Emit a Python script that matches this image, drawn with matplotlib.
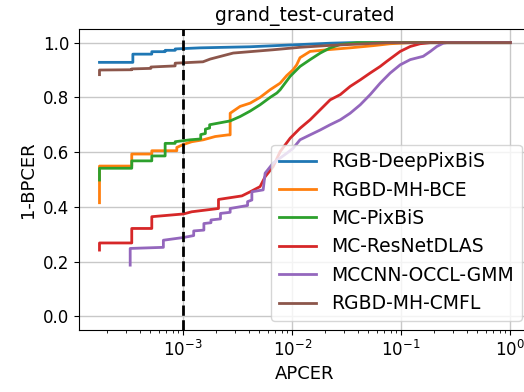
import numpy as np
import matplotlib
matplotlib.use('Agg')
import matplotlib.pyplot as plt

# APCER / 1-BPCER vertices (repeated x = vertical step)
names = ['RGB-DeepPixBiS', 'RGBD-MH-BCE', 'MC-PixBiS', 'MC-ResNetDLAS',
         'MCCNN-OCCL-GMM', 'RGBD-MH-CMFL']

blue_x = [1.71e-4, 3.46e-4, 3.46e-4, 5.16e-4, 5.16e-4, 6.84e-4, 6.84e-4,
          8.45e-4, 8.45e-4, 1.43e-3, 4.12e-3, 1.18e-2, 2.23e-2, 3.4e-2, 1.0]
blue_y = [0.928, 0.928, 0.958, 0.958, 0.967, 0.967, 0.972, 0.972, 0.977,
          0.981, 0.985, 0.993, 0.998, 1.0, 1.0]

orange_x = [1.71e-4, 1.71e-4, 3.38e-4, 3.38e-4, 5.16e-4, 5.16e-4, 8.75e-4,
            8.75e-4, 1.007e-3, 1.2e-3, 1.53e-3, 1.97e-3, 2.59e-3, 2.7e-3,
            2.7e-3, 3.33e-3, 4.12e-3, 5.08e-3, 6.28e-3, 7.76e-3, 8.93e-3,
            1.02e-2, 1.1e-2, 1.18e-2, 1.46e-2, 2.08e-2, 3.4e-2, 5.53e-2,
            7.92e-2, 0.121, 1.0]
orange_y = [0.415, 0.549, 0.549, 0.593, 0.593, 0.605, 0.605, 0.617, 0.628,
            0.638, 0.645, 0.657, 0.663, 0.663, 0.742, 0.767, 0.779, 0.800,
            0.828, 0.852, 0.880, 0.901, 0.919, 0.945, 0.968, 0.974, 0.981,
            0.989, 0.996, 1.0, 1.0]

green_x = [1.71e-4, 1.71e-4, 3.38e-4, 3.38e-4, 5.16e-4, 5.16e-4, 6.84e-4,
           6.84e-4, 8.45e-4, 8.45e-4, 1.16e-3, 1.45e-3, 1.45e-3, 1.6e-3,
           1.6e-3, 1.75e-3, 1.75e-3, 2.7e-3, 3.33e-3, 4.12e-3, 5.08e-3,
           6.28e-3, 7.24e-3, 7.76e-3, 9.59e-3, 1.18e-2, 1.46e-2, 1.81e-2,
           2.23e-2, 2.76e-2, 3.92e-2, 1.0]
green_y = [0.498, 0.541, 0.541, 0.568, 0.568, 0.586, 0.586, 0.632, 0.632,
           0.638, 0.645, 0.648, 0.664, 0.668, 0.684, 0.688, 0.700, 0.714,
           0.730, 0.750, 0.773, 0.800, 0.816, 0.828, 0.877, 0.913, 0.938,
           0.962, 0.981, 0.993, 1.0, 1.0]

red_x = [1.71e-4, 1.71e-4, 3.38e-4, 3.38e-4, 5.16e-4, 5.16e-4, 1.007e-3,
         1.2e-3, 2.11e-3, 2.11e-3, 3.46e-3, 4.12e-3, 5.08e-3, 5.65e-3,
         6.69e-3, 7.76e-3, 9.59e-3, 1.18e-2, 1.46e-2, 1.81e-2, 2.23e-2,
         2.76e-2, 3.4e-2, 4.21e-2, 5.19e-2, 6.41e-2, 7.39e-2, 9.79e-2,
         0.121, 0.149, 0.185, 1.0]
red_y = [0.242, 0.268, 0.268, 0.321, 0.321, 0.364, 0.374, 0.382, 0.394,
         0.427, 0.440, 0.455, 0.474, 0.510, 0.547, 0.602, 0.651, 0.687,
         0.718, 0.755, 0.791, 0.810, 0.840, 0.864, 0.889, 0.913, 0.932,
         0.968, 0.986, 0.996, 1.0, 1.0]

purple_x = [3.27e-4, 3.27e-4, 6.59e-4, 6.59e-4, 1.007e-3, 1.25e-3, 1.25e-3,
            1.55e-3, 1.55e-3, 1.8e-3, 1.8e-3, 2.2e-3, 2.2e-3, 2.7e-3,
            2.7e-3, 3.9e-3, 3.9e-3, 4.27e-3, 4.27e-3, 5.42e-3, 5.65e-3,
            6.69e-3, 8.93e-3, 1.02e-2, 1.18e-2, 1.46e-2, 1.81e-2, 2.23e-2,
            2.76e-2, 3.4e-2, 4.21e-2, 5.19e-2, 6.41e-2, 7.92e-2, 9.79e-2,
            0.121, 0.159, 0.185, 0.212, 0.243, 0.262, 1.0]
purple_y = [0.187, 0.248, 0.252, 0.278, 0.288, 0.295, 0.312, 0.315, 0.339,
            0.342, 0.352, 0.356, 0.376, 0.380, 0.394, 0.405, 0.419, 0.425,
            0.455, 0.462, 0.523, 0.560, 0.596, 0.614, 0.645, 0.663, 0.681,
            0.700, 0.718, 0.742, 0.773, 0.810, 0.852, 0.889, 0.919, 0.938,
            0.950, 0.968, 0.986, 0.998, 1.0, 1.0]

brown_x = [1.71e-4, 1.71e-4, 3.38e-4, 3.38e-4, 5.06e-4, 5.06e-4, 8.45e-4,
           8.45e-4, 1.52e-3, 1.77e-3, 2.88e-3, 6.69e-3, 1.18e-2, 2.23e-2,
           4.21e-2, 7.4e-2, 1.0]
brown_y = [0.883, 0.900, 0.901, 0.904, 0.906, 0.911, 0.915, 0.925, 0.930,
           0.940, 0.962, 0.974, 0.983, 0.990, 0.995, 1.0, 1.0]

curves = [(blue_x, blue_y), (orange_x, orange_y), (green_x, green_y),
          (red_x, red_y), (purple_x, purple_y), (brown_x, brown_y)]

fig = plt.figure(figsize=(5.24, 3.92), dpi=100)
ax = fig.add_axes([0.1508, 0.1582, 0.8626, 0.7679])

for (x, y), name in zip(curves, names):
    ax.plot(x, y, linewidth=2, label=name)

ax.axvline(1e-3, color='k', linestyle='--', linewidth=2)

ax.set_xscale('log')
ax.set_xlim(1.11e-4, 1.55)
ax.set_ylim(-0.05, 1.05)
ax.grid(True, which='major', color='#c8c8c8', linewidth=1)
ax.tick_params(labelsize=12)
ax.set_xlabel('APCER', fontsize=13)
ax.set_ylabel('1-BPCER', fontsize=13)
ax.set_title('grand_test-curated', fontsize=13.5)
ax.legend(loc='lower right', fontsize=13.5, labelspacing=0.5)

fig.savefig('out.png', dpi=100)
